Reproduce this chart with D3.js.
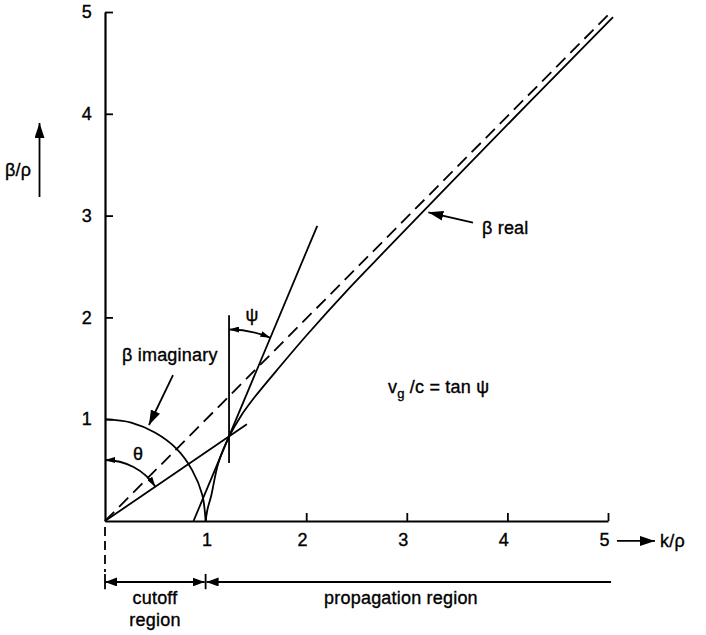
<!DOCTYPE html>
<html lang="en">
<head>
<meta charset="UTF-8">
<title>beta / k diagram</title>
<script src="https://d3js.org/d3.v7.min.js"></script>
<style>
  body { margin: 0; background: #fff; }
  svg text { font-family: "Liberation Sans", Arial, sans-serif; font-size: 18px; fill: #000;
             stroke: #000; stroke-width: 0.35; letter-spacing: 0.2px; }
  .ln { fill: none; stroke: #000; stroke-width: 1.8; }
</style>
</head>
<body>
<svg width="706" height="635"></svg>
<script>
const xTicks = [1, 2, 3, 4, 5];
const yTicks = [1, 2, 3, 4, 5];

// beta real
const realK    = [1.0, 1.02, 1.054, 1.126, 1.233, 1.35, 1.49, 1.75, 2.0, 2.44, 2.8, 3.43, 4.2, 5.05];
const realBeta = [0, 0.12, 0.24, 0.567, 0.828, 1.03, 1.22, 1.53, 1.82, 2.30, 2.67, 3.315, 4.095, 4.95];

// beta imaginary, the quarter circle
const imagK    = [0, 0.26, 0.5, 0.71, 0.866, 0.966, 1.0];
const imagBeta = [1, 0.966, 0.866, 0.71, 0.5, 0.26, 0];

// straight lines: asymptote (dashed), tangent, theta line, psi vertical
const asymK = [0, 5.03], asymBeta = [0, 5.0];
const tanK = [0.88, 2.11], tanBeta = [0, 2.90];
const thetaK = [0, 1.41], thetaBeta = [0, 0.95];
const psiK = [1.233, 1.233], psiBeta = [0.57, 2.02];
const touch = [1.233, 0.83];

// region bar below the axis
const regionEdges = [0, 1, 5.03];
const regionNames = ["cutoff", "propagation region"];

const svg = d3.select("svg");
const x = d3.scaleLinear().domain([0, 5]).range([105, 608]);
const y = d3.scaleLinear().domain([0, 5]).range([521, 12]);

const defs = svg.append("defs");
function marker(id, len, wid) {
  defs.append("marker").attr("id", id)
    .attr("viewBox", `0 0 ${len} ${wid}`)
    .attr("refX", len).attr("refY", wid / 2)
    .attr("markerWidth", len).attr("markerHeight", wid)
    .attr("markerUnits", "userSpaceOnUse")
    .attr("orient", "auto-start-reverse")
    .append("path").attr("d", `M0,0L${len},${wid / 2}L0,${wid}Z`).attr("fill", "#000");
}
marker("big", 15, 10);
marker("mid", 12, 9);
marker("small", 10, 6);

// axes
const fmt = d3.format("d");
const yAxis = svg.append("g")
  .attr("transform", `translate(${x(0)},0)`)
  .call(d3.axisLeft(y).tickValues(yTicks).tickFormat(fmt).tickSize(-8).tickSizeOuter(0).tickPadding(13))
  .attr("font-size", 18).attr("font-family", "Liberation Sans, Arial, sans-serif");
const xAxis = svg.append("g")
  .attr("transform", `translate(0,${y(0)})`)
  .call(d3.axisBottom(x).tickValues(xTicks).tickFormat(fmt).tickSize(-8).tickSizeOuter(0).tickPadding(12))
  .attr("font-size", 18).attr("font-family", "Liberation Sans, Arial, sans-serif");
xAxis.selectAll("text").attr("dx", d => d === 1 ? 1 : -4);
svg.selectAll(".domain").attr("stroke-width", 2.2);
svg.selectAll(".tick line").attr("stroke-width", 1.8);
svg.selectAll(".tick text").attr("fill", "#000");

const line = d3.line().x(d => x(d[0])).y(d => y(d[1]));
const pts = (ks, bs) => ks.map((k, i) => [k, bs[i]]);

svg.append("path").attr("class", "ln")
  .attr("d", line.curve(d3.curveCatmullRom)(pts(realK, realBeta)));
svg.append("path").attr("class", "ln")
  .attr("d", line.curve(d3.curveCatmullRom)(pts(imagK, imagBeta)));
line.curve(d3.curveLinear);
svg.append("path").attr("class", "ln").attr("stroke-dasharray", "13,7")
  .attr("d", line(pts(asymK, asymBeta)));
[[tanK, tanBeta], [thetaK, thetaBeta], [psiK, psiBeta]].forEach(([ks, bs]) => {
  svg.append("path").attr("class", "ln").attr("d", line(pts(ks, bs)));
});

// angle arcs with arrowheads at both ends
function angleArc(cx, cy, r, dx, dy) {
  const a0 = -Math.PI / 2, a1 = Math.atan2(dy, dx);
  const p = d3.path();
  p.moveTo(cx + r * Math.cos(a0), cy + r * Math.sin(a0));
  p.arc(cx, cy, r, a0, a1, false);
  svg.append("path").attr("class", "ln").attr("stroke-width", 1.6)
    .attr("d", p.toString())
    .attr("marker-start", "url(#small)").attr("marker-end", "url(#small)");
}
angleArc(x(0), y(0), 61, x(thetaK[1]) - x(0), y(thetaBeta[1]) - y(0));
angleArc(x(touch[0]), y(touch[1]), 107, x(tanK[1]) - x(touch[0]), y(tanBeta[1]) - y(touch[1]));

// annotation arrows (data units)
const arrows = [
  { from: [3.658, 2.93], to: [3.214, 3.032], m: "big" },     // beta real
  { from: [0.676, 1.434], to: [0.437, 0.943], m: "big" },    // beta imaginary
  { from: [-0.651, 3.183], to: [-0.651, 3.91], m: "big" },   // y label
  { from: [5.089, -0.196], to: [5.467, -0.196], m: "big" }   // x label
];
arrows.forEach(a => {
  svg.append("line").attr("class", "ln")
    .attr("x1", x(a.from[0])).attr("y1", y(a.from[1]))
    .attr("x2", x(a.to[0])).attr("y2", y(a.to[1]))
    .attr("marker-end", `url(#${a.m})`);
});

// labels
const label = (k, b, txt, anchor) => svg.append("text")
  .attr("x", x(k)).attr("y", y(b)).attr("text-anchor", anchor || "start").text(txt);
label(3.747, 2.824, "β real");
label(0.169, 1.572, "β imaginary");
label(0.328, 0.599, "θ", "middle");
label(1.461, 1.965, "ψ", "middle");
label(-0.994, 3.39, "β/ρ");
label(5.517, -0.256, "k/ρ");
const vg = label(2.813, 1.257, "v");
vg.append("tspan").attr("font-size", 13).attr("dy", 5).text("g");
vg.append("tspan").attr("dy", -5).text(" /c = tan ψ");

// region bar
const barB = -0.599;
svg.append("line").attr("class", "ln").attr("stroke-dasharray", "9,5")
  .attr("x1", x(0)).attr("x2", x(0)).attr("y1", y(-0.06)).attr("y2", y(-0.50));
[regionEdges[0], regionEdges[1]].forEach(k => {
  svg.append("line").attr("class", "ln").attr("stroke-width", 1.4)
    .attr("x1", x(k)).attr("x2", x(k)).attr("y1", y(-0.52)).attr("y2", y(-0.67));
});
svg.append("line").attr("class", "ln")
  .attr("x1", x(regionEdges[0])).attr("x2", x(regionEdges[1]) - 1)
  .attr("y1", y(barB)).attr("y2", y(barB))
  .attr("marker-start", "url(#mid)").attr("marker-end", "url(#mid)");
svg.append("line").attr("class", "ln")
  .attr("x1", x(regionEdges[1]) + 1).attr("x2", x(regionEdges[2]))
  .attr("y1", y(barB)).attr("y2", y(barB))
  .attr("marker-start", "url(#mid)");
label(0.497, -0.815, regionNames[0], "middle");
label(0.497, -1.031, "region", "middle");
label(2.942, -0.815, regionNames[1], "middle");
</script>
</body>
</html>
